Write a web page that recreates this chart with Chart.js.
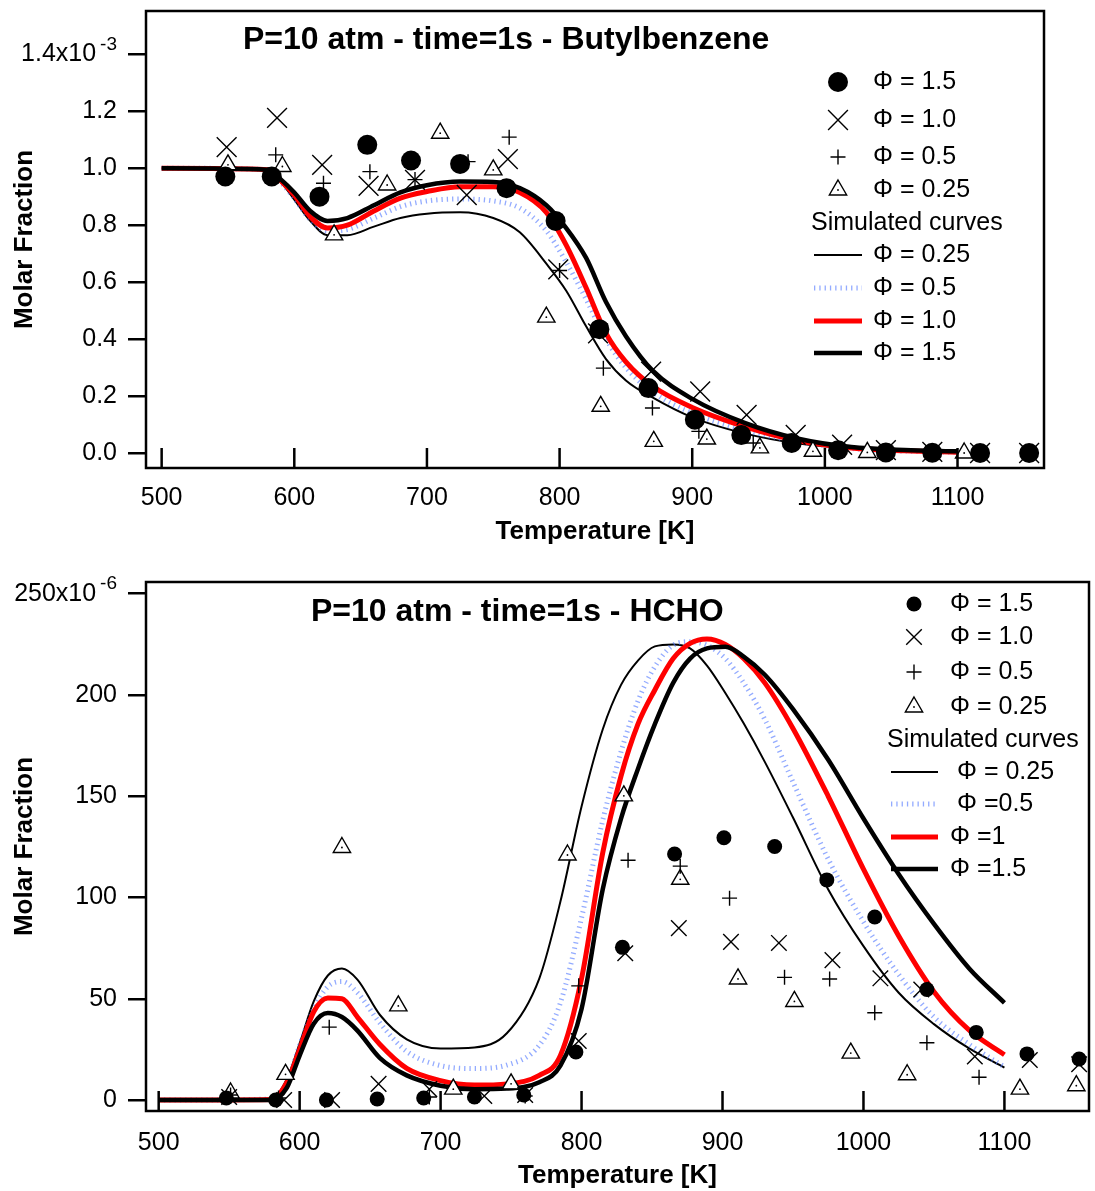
<!DOCTYPE html>
<html>
<head>
<meta charset="utf-8">
<script src="https://cdn.jsdelivr.net/npm/chart.js@4.4.1/dist/chart.umd.min.js"></script>
<style>
  html, body { margin: 0; padding: 0; background: #fff; }
  #wrap { position: relative; width: 1095px; height: 1191px; }
  canvas { position: absolute; left: 0; }
  #c1 { top: 0; }
  #c2 { top: 547px; }
</style>
</head>
<body>
<div id="wrap">
  <canvas id="c1" width="1095" height="547"></canvas>
  <canvas id="c2" width="1095" height="644"></canvas>
</div>
<script>
// ---------- top panel: Butylbenzene (molar fraction, x10^-3) ----------
const xTicks = [500, 600, 700, 800, 900, 1000, 1100];
const topYTicks = [0, 0.2, 0.4, 0.6, 0.8, 1.0, 1.2, 1.4];
const topYLabels = ['0.0', '0.2', '0.4', '0.6', '0.8', '1.0', '1.2', '1.4x10'];
const topYExp = '-3';   // exponent written above the last tick label

// measured points
const top15T = [548, 583, 619, 655, 688, 725, 760, 797, 830, 867, 902, 937, 975, 1010, 1046, 1081, 1117, 1154];
const top15V = [0.971, 0.971, 0.900, 1.082, 1.027, 1.015, 0.930, 0.815, 0.435, 0.228, 0.117, 0.063, 0.035, 0.010, 0.002, 0.001, 0.0, 0.0];
const top10T = [549, 587, 621, 656, 691, 730, 761, 799, 829, 869, 906, 941, 978, 1013, 1046, 1081, 1117, 1154];
const top10V = [1.074, 1.177, 1.012, 0.938, 0.959, 0.906, 1.032, 0.645, 0.42, 0.286, 0.216, 0.134, 0.064, 0.029, 0.01, 0.004, 0.0, 0.0];
const top05T = [586, 622, 657, 691, 731, 762, 800, 833, 870, 905, 946, 1012, 1046, 1081];
const top05V = [1.047, 0.947, 0.988, 0.96, 1.023, 1.109, 0.641, 0.298, 0.158, 0.076, 0.035, 0.01, 0.003, 0.0];
const top025T = [550, 591, 630, 670, 710, 750, 790, 831, 871, 911, 951, 991, 1032, 1105];
const top025V = [1.012, 1.006, 0.766, 0.941, 1.123, 0.994, 0.477, 0.164, 0.041, 0.049, 0.018, 0.006, 0.002, 0.0];

// simulated curves
const topSimT = [500, 580, 590, 600, 612, 625, 640, 660, 680, 700, 725, 750, 770, 790, 805, 820, 835, 850, 870, 900, 940, 980, 1020, 1060, 1100];
const topSim025 = [1.0, 0.993, 0.95, 0.89, 0.815, 0.765, 0.765, 0.795, 0.825, 0.84, 0.845, 0.825, 0.775, 0.665, 0.57, 0.445, 0.33, 0.255, 0.195, 0.125, 0.068, 0.033, 0.016, 0.009, 0.004];
const topSim05 = [1.0, 0.995, 0.95, 0.895, 0.82, 0.78, 0.785, 0.825, 0.865, 0.885, 0.892, 0.885, 0.86, 0.78, 0.67, 0.54, 0.40, 0.30, 0.215, 0.14, 0.08, 0.04, 0.016, 0.007, 0.003];
const topSim10 = [1.0, 0.995, 0.955, 0.905, 0.83, 0.79, 0.80, 0.85, 0.895, 0.918, 0.935, 0.935, 0.915, 0.845, 0.73, 0.58, 0.42, 0.32, 0.235, 0.16, 0.092, 0.043, 0.018, 0.008, 0.003];
const topSim15 = [1.0, 0.995, 0.96, 0.915, 0.85, 0.815, 0.825, 0.87, 0.915, 0.94, 0.953, 0.952, 0.93, 0.87, 0.79, 0.685, 0.53, 0.41, 0.29, 0.19, 0.105, 0.05, 0.021, 0.011, 0.006];

// ---------- bottom panel: HCHO (molar fraction, x10^-6) ----------
const botYTicks = [0, 50, 100, 150, 200, 250];
const botYLabels = ['0', '50', '100', '150', '200', '250x10'];
const botYExp = '-6';

const bot15T = [548, 583, 619, 655, 688, 724, 759, 796, 829, 866, 901, 937, 974, 1008, 1045, 1080, 1116, 1153];
const bot15V = [1, 0, 0, 0.5, 1, 1.5, 2.5, 23.7, 75.4, 121.5, 129.5, 125.2, 108.7, 90.4, 54.6, 33.4, 22.8, 20.3];
const bot10T = [550, 589, 623, 656, 692, 731, 760, 798, 831, 869, 906, 940, 978, 1012, 1041, 1079, 1118, 1153];
const bot10V = [1.5, 0, 0, 8, 5.4, 2, 2.5, 29.2, 72.5, 84.9, 78.1, 77.6, 69.1, 60.1, 54.6, 21.5, 19.8, 17.7];
const bot05T = [551, 585, 621, 692, 760, 798, 833, 870, 905, 944, 976, 1008, 1045, 1082];
const bot05V = [2.5, 1, 36, 1.5, 2, 56.4, 118.4, 115.5, 99.7, 60.6, 59.8, 43.1, 28.3, 11.3];
const bot025T = [551, 590, 630, 670, 709, 750, 790, 830, 870, 911, 951, 991, 1031, 1111, 1151];
const bot025V = [3.5, 12.7, 124.7, 46.5, 5.4, 8, 121, 150.2, 109, 59.8, 48.7, 23.2, 12.5, 5.4, 7.1];

const botSimT = [500, 580, 591, 600, 610, 620, 630, 641, 657, 676, 700, 724, 747, 770, 785, 800, 815, 828, 840, 852, 865, 877, 889, 902, 915, 930, 950, 975, 1000, 1025, 1050, 1075, 1100];
const botSim025 = [0, 0.5, 10.5, 28, 48.7, 61.5, 65, 59.5, 42, 30, 25.5, 26, 33, 60, 98, 145, 183, 205, 217, 224, 225, 223, 214.5, 201, 186, 167, 139.5, 104, 76, 53, 37.5, 25.5, 16];
const botSim05 = [0, 0.5, 9, 27, 45, 56, 58.5, 53, 38, 24, 17, 15.6, 17.3, 27, 48, 90, 138, 172, 197, 214, 224.6, 226.3, 224.6, 218, 206, 188, 157, 119, 88, 62, 41, 27.5, 16.4];
const botSim10 = [0, 0.3, 8.8, 25, 43.6, 50.4, 50, 41, 27.4, 15.6, 9.6, 7.4, 8, 12.2, 22, 60, 122, 160, 185.6, 202.5, 218, 225.5, 227.7, 225, 218, 206, 183.5, 150, 114, 81, 53.5, 34.5, 22.4];
const botSim15 = [0, 0, 6.2, 22, 37.7, 43, 41, 34.3, 20.7, 12.2, 7.1, 5.4, 5.7, 8.8, 17, 45, 104, 139, 163.5, 185.6, 206, 218, 223, 223.8, 219, 210, 193, 168, 139, 111.5, 87, 65, 48];

const FONT = '"Liberation Sans", Arial, Helvetica, sans-serif';
Chart.defaults.font.family = FONT;
Chart.defaults.color = '#000';

function pts(xs, ys) {
  return xs.map((x, i) => ({x: x, y: ys[i]}));
}

// marker datasets (drawn on top of the curves)
function marker(data, style, r, fill) {
  return {
    data: data, showLine: false, pointStyle: style, pointRadius: r, pointHoverRadius: r,
    pointBackgroundColor: fill, pointBorderColor: '#000',
    pointBorderWidth: style === 'circle' ? 0 : 1.4, clip: false, order: 0
  };
}
function curve(data, color, width, dash, order) {
  return {
    data: data, showLine: true, pointRadius: 0, borderColor: color, borderWidth: width,
    borderDash: dash, cubicInterpolationMode: 'monotone', fill: false, order: order
  };
}

const BLUE = 'rgba(80,120,255,0.62)';

// frame, inward x ticks, exponent, title and the legend box
const decor = {
  id: 'decor',
  afterDraw(chart, args, opts) {
    const ctx = chart.ctx;
    const a = chart.chartArea;
    const xs = chart.scales.x;
    const ys = chart.scales.y;
    ctx.save();
    ctx.strokeStyle = '#000';
    ctx.lineWidth = 2.5;
    ctx.beginPath();
    xs.ticks.forEach(t => {
      const px = xs.getPixelForValue(t.value);
      ctx.moveTo(px, a.bottom);
      ctx.lineTo(px, a.bottom - 20);
    });
    ctx.stroke();
    ctx.strokeRect(a.left, a.top, a.right - a.left, a.bottom - a.top);

    ctx.fillStyle = '#000';
    ctx.textBaseline = 'middle';

    // exponent of the top y tick label
    const lastTick = ys.ticks[ys.ticks.length - 1].value;
    ctx.textAlign = 'right';
    ctx.font = '19px ' + FONT;
    ctx.fillText(opts.exp, a.left - 29, ys.getPixelForValue(lastTick) - 10);

    ctx.textAlign = 'left';
    ctx.font = 'bold 32px ' + FONT;
    ctx.fillText(opts.title, opts.titleX, opts.titleY);

    ctx.font = '25px ' + FONT;
    opts.legend.forEach(it => {
      if (it.ds !== undefined) {
        const ds = chart.data.datasets[it.ds];
        ctx.save();
        if (ds.showLine) {
          ctx.strokeStyle = ds.borderColor;
          ctx.lineWidth = ds.borderWidth;
          ctx.setLineDash(ds.borderDash || []);
          ctx.beginPath();
          ctx.moveTo(it.x0, it.y);
          ctx.lineTo(it.x1, it.y);
          ctx.stroke();
        } else {
          ctx.fillStyle = ds.pointBackgroundColor;
          ctx.strokeStyle = ds.pointBorderColor;
          ctx.lineWidth = ds.pointBorderWidth;
          Chart.helpers.drawPoint(ctx, {
            pointStyle: ds.pointStyle, radius: ds.pointRadius,
            borderWidth: ds.pointBorderWidth, rotation: 0
          }, it.x, it.y);
          if (ds.pointStyle === 'triangle') {
            ctx.fillStyle = '#000';
            ctx.beginPath();
            ctx.arc(it.x, it.y, 0.9, 0, Math.PI * 2);
            ctx.fill();
          }
        }
        ctx.restore();
      }
      ctx.fillText(it.text, it.tx, it.y);
    });
    ctx.restore();
  }
};

function makeChart(canvasId, cfg) {
  const ticksOf = arr => s => { s.ticks = arr.map(v => ({value: v})); };
  const last = cfg.yTicks.length - 1;
  return new Chart(document.getElementById(canvasId), {
    type: 'scatter',
    data: {datasets: cfg.datasets},
    plugins: [decor],
    options: {
      responsive: false,
      animation: false,
      events: [],
      layout: {padding: cfg.pad, autoPadding: false},
      plugins: {
        legend: {display: false},
        tooltip: {enabled: false},
        decor: cfg.decor
      },
      scales: {
        x: {
          type: 'linear', min: cfg.xMin, max: cfg.xMax,
          afterBuildTicks: ticksOf(xTicks),
          afterFit: s => { s.height = cfg.xHeight; s.paddingLeft = 0; s.paddingRight = 0; },
          grid: {display: false},
          border: {display: false},
          ticks: {autoSkip: false, maxRotation: 0, padding: cfg.xPad, font: {size: 25}, color: '#000',
                  callback: v => String(v)},
          title: {display: true, text: 'Temperature [K]', color: '#000',
                  font: {size: 26, weight: 'bold'}, padding: {top: 0, bottom: 0}}
        },
        y: {
          type: 'linear', min: cfg.yMin, max: cfg.yMax,
          afterBuildTicks: ticksOf(cfg.yTicks),
          afterFit: s => { s.width = 146; s.paddingTop = 0; s.paddingBottom = 0; },
          grid: {display: true, drawOnChartArea: false, drawTicks: true, tickLength: 18,
                 lineWidth: 2.5, color: '#000'},
          border: {display: false},
          ticks: {autoSkip: false, padding: 11, font: {size: 25}, color: '#000',
                  // the last label leaves room for its exponent
                  callback: v => {
                    const i = cfg.yTicks.indexOf(v);
                    return i === last ? cfg.yLabels[i] + '   ' : cfg.yLabels[i];
                  }},
          title: {display: true, text: 'Molar Fraction', color: '#000',
                  font: {size: 26, weight: 'bold'}, padding: {top: 9, bottom: 0}}
        }
      }
    }
  });
}

// ---- top chart ----
const topSets = [
  marker(pts(top15T, top15V), 'circle', 10, '#000'),          // 0
  marker(pts(top10T, top10V), 'crossRot', 14, '#000'),        // 1
  marker(pts(top05T, top05V), 'cross', 7.5, '#000'),          // 2
  marker(pts(top025T, top025V), 'triangle', 10, '#fff'),      // 3
  Object.assign(marker(pts(top025T, top025V), 'circle', 0.9, '#000'), {order: -1}),
  curve(pts(topSimT, topSim025), '#000', 2, [], 4),           // 5
  curve(pts(topSimT, topSim05), BLUE, 5, [1.3, 4], 3),        // 6
  curve(pts(topSimT, topSim10), '#ff0000', 5, [], 2),         // 7
  curve(pts(topSimT, topSim15), '#000', 4.5, [], 1)           // 8
];
makeChart('c1', {
  datasets: topSets,
  pad: {left: 0, top: 11, right: 51, bottom: 0},
  xMin: 488.2, xMax: 1165.2, xHeight: 79, xPad: 7,
  yMin: -0.0526, yMax: 1.552, yTicks: topYTicks, yLabels: topYLabels,
  decor: {
    exp: topYExp,
    title: 'P=10 atm - time=1s - Butylbenzene', titleX: 243, titleY: 40,
    legend: [
      {ds: 0, x: 838, y: 82, text: '\u03A6 = 1.5', tx: 873},
      {ds: 1, x: 838, y: 120, text: '\u03A6 = 1.0', tx: 873},
      {ds: 2, x: 838, y: 157, text: '\u03A6 = 0.5', tx: 873},
      {ds: 3, x: 838, y: 190, text: '\u03A6 = 0.25', tx: 873},
      {text: 'Simulated curves', tx: 811, y: 223},
      {ds: 5, x0: 814, x1: 862, y: 255, text: '\u03A6 = 0.25', tx: 873},
      {ds: 6, x0: 814, x1: 862, y: 288, text: '\u03A6 = 0.5', tx: 873},
      {ds: 7, x0: 814, x1: 862, y: 321, text: '\u03A6 = 1.0', tx: 873},
      {ds: 8, x0: 814, x1: 862, y: 353, text: '\u03A6 = 1.5', tx: 873}
    ]
  }
});

// ---- bottom chart ----
const botSets = [
  marker(pts(bot15T, bot15V), 'circle', 7.5, '#000'),
  marker(pts(bot10T, bot10V), 'crossRot', 11, '#000'),
  marker(pts(bot05T, bot05V), 'cross', 7.5, '#000'),
  marker(pts(bot025T, bot025V), 'triangle', 10, '#fff'),
  Object.assign(marker(pts(bot025T, bot025V), 'circle', 0.9, '#000'), {order: -1}),
  curve(pts(botSimT, botSim025), '#000', 2, [], 4),
  curve(pts(botSimT, botSim05), BLUE, 5, [1.3, 4], 3),
  curve(pts(botSimT, botSim10), '#ff0000', 5, [], 2),
  curve(pts(botSimT, botSim15), '#000', 4.5, [], 1)
];
makeChart('c2', {
  datasets: botSets,
  pad: {left: 0, top: 35, right: 6, bottom: 0},
  xMin: 491, xMax: 1160, xHeight: 80, xPad: 9,
  yMin: -5.4, yMax: 255.8, yTicks: botYTicks, yLabels: botYLabels,
  decor: {
    exp: botYExp,
    title: 'P=10 atm - time=1s - HCHO', titleX: 311, titleY: 65,
    legend: [
      {ds: 0, x: 914, y: 57, text: '\u03A6 = 1.5', tx: 950},
      {ds: 1, x: 914, y: 90, text: '\u03A6 = 1.0', tx: 950},
      {ds: 2, x: 914, y: 125, text: '\u03A6 = 0.5', tx: 950},
      {ds: 3, x: 914, y: 160, text: '\u03A6 = 0.25', tx: 950},
      {text: 'Simulated curves', tx: 887, y: 193},
      {ds: 5, x0: 891, x1: 938, y: 225, text: '\u03A6 = 0.25', tx: 957},
      {ds: 6, x0: 891, x1: 938, y: 257, text: '\u03A6 =0.5', tx: 957},
      {ds: 7, x0: 891, x1: 938, y: 290, text: '\u03A6 =1', tx: 950},
      {ds: 8, x0: 891, x1: 938, y: 322, text: '\u03A6 =1.5', tx: 950}
    ]
  }
});
</script>
</body>
</html>
